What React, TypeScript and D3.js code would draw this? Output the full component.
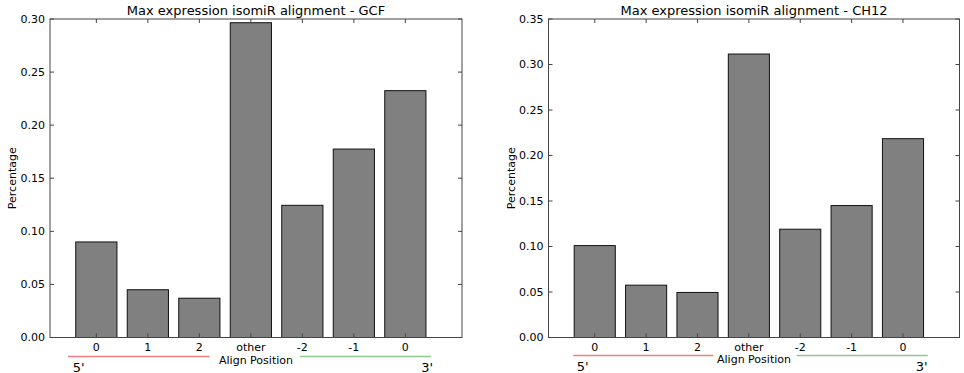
import React from "react";
import * as d3 from "d3";

const categories = ["0", "1", "2", "other", "-2", "-1", "0"];
const gcfValues = [0.09, 0.045, 0.037, 0.2965, 0.1245, 0.1775, 0.2325];
const ch12Values = [0.101, 0.0575, 0.0495, 0.3115, 0.119, 0.145, 0.2185];
const gcfTicks = [0, 0.05, 0.1, 0.15, 0.2, 0.25, 0.3];
const ch12Ticks = [0, 0.05, 0.1, 0.15, 0.2, 0.25, 0.3, 0.35];

const FONT = "'DejaVu Sans', sans-serif";

type PanelProps = {
  title: string;
  values: number[];
  ticks: number[];
  yMax: number;
  left: number;
  right: number;
  top: number;
  bottom: number;
  lineY: number;
  redSpan: [number, number];
  greenSpan: [number, number];
  primes: [number, number];
};

function Panel({ title, values, ticks, yMax, left, right, top, bottom, lineY, redSpan, greenSpan, primes }: PanelProps) {
  // matplotlib style: bars at i..i+0.8, xlim -0.5..7.5
  const x = d3.scaleLinear().domain([-0.5, 7.5]).range([left, right]);
  const y = d3.scaleLinear().domain([0, yMax]).range([bottom, top]);
  const tickLen = 4;
  const mid = (left + right) / 2;

  return (
    <g fontFamily={FONT}>
      <text x={mid} y={15} textAnchor="middle" fontSize={13}>
        {title}
      </text>

      {values.map((v, i) => (
        <rect
          key={i}
          x={x(i)}
          y={y(v)}
          width={x(i + 0.8) - x(i)}
          height={bottom - y(v)}
          fill="#808080"
          stroke="#111"
          strokeWidth={1}
        />
      ))}

      <rect x={left} y={top} width={right - left} height={bottom - top} fill="none" stroke="#444" strokeWidth={1} />

      {ticks.map((t) => (
        <g key={t}>
          <line x1={left} x2={left + tickLen} y1={y(t)} y2={y(t)} stroke="#444" />
          <line x1={right} x2={right - tickLen} y1={y(t)} y2={y(t)} stroke="#444" />
          <text x={left - 5} y={y(t)} dy="0.35em" textAnchor="end" fontSize={11}>
            {d3.format(".2f")(t)}
          </text>
        </g>
      ))}

      {categories.map((c, i) => {
        const cx = x(i + 0.4);
        return (
          <g key={i}>
            <line x1={cx} x2={cx} y1={bottom} y2={bottom - tickLen} stroke="#444" />
            <line x1={cx} x2={cx} y1={top} y2={top + tickLen} stroke="#444" />
            <text x={cx} y={bottom + 13} textAnchor="middle" fontSize={11}>
              {c}
            </text>
          </g>
        );
      })}

      <text
        transform={`translate(${left - 34},${(top + bottom) / 2}) rotate(-90)`}
        textAnchor="middle"
        fontSize={11}
      >
        Percentage
      </text>

      <line x1={x(redSpan[0])} x2={x(redSpan[1])} y1={lineY} y2={lineY} stroke="#f08080" strokeWidth={1.5} />
      <line x1={x(greenSpan[0])} x2={x(greenSpan[1])} y1={lineY} y2={lineY} stroke="#90c890" strokeWidth={1.5} />
      <text x={mid} y={lineY + 7} textAnchor="middle" fontSize={11}>
        Align Position
      </text>
      <text x={x(primes[0])} y={lineY + 15} fontSize={13}>
        5'
      </text>
      <text x={x(primes[1])} y={lineY + 15} textAnchor="end" fontSize={13}>
        3'
      </text>
    </g>
  );
}

export default function App() {
  return (
    <svg
      width={964}
      height={373}
      style={{ position: "absolute", left: 0, top: 0, background: "#fff" }}
    >
      <rect width={964} height={373} fill="#fff" />
      <Panel
        title="Max expression isomiR alignment - GCF"
        values={gcfValues}
        ticks={gcfTicks}
        yMax={0.3}
        left={50}
        right={462}
        top={19}
        bottom={337.5}
        lineY={356.5}
        redSpan={[-0.15, 2.6]}
        greenSpan={[4.35, 6.9]}
        primes={[-0.06, 6.94]}
      />
      <Panel
        title="Max expression isomiR alignment - CH12"
        values={ch12Values}
        ticks={ch12Ticks}
        yMax={0.35}
        left={548.5}
        right={959.5}
        top={19}
        bottom={337.5}
        lineY={355.5}
        redSpan={[-0.02, 2.71]}
        greenSpan={[4.33, 6.88]}
        primes={[0.05, 6.88]}
      />
    </svg>
  );
}
